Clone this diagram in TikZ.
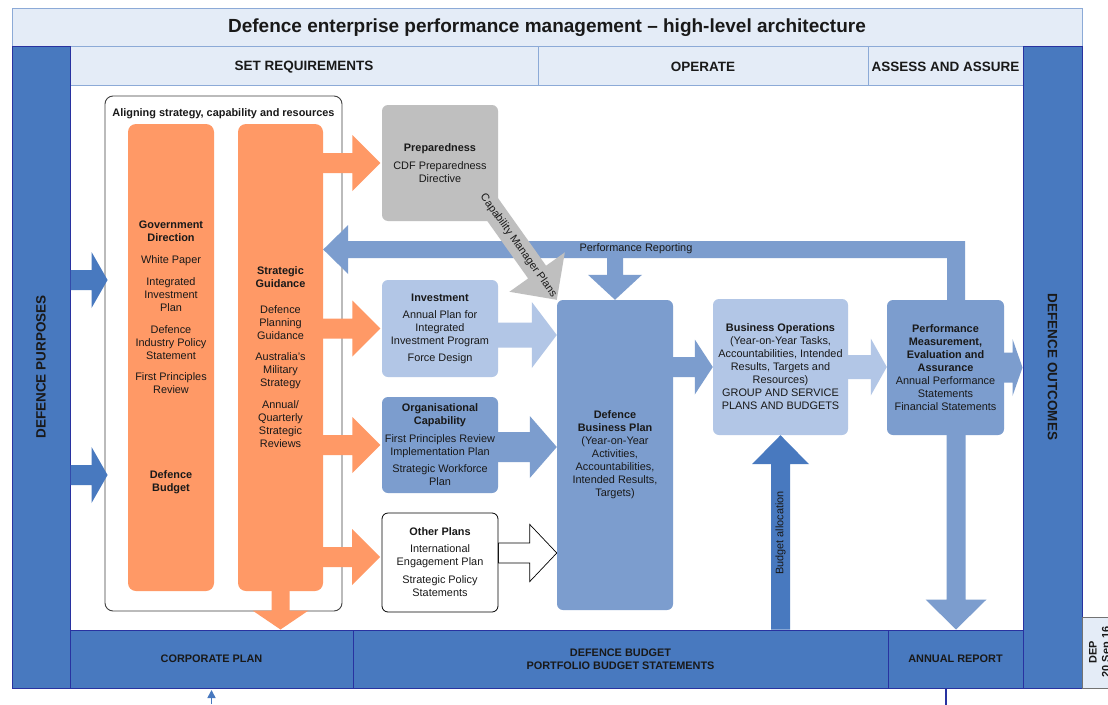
\documentclass[tikz,border=0pt]{standalone}
\usepackage{fontspec}
\setmainfont{Liberation Sans}
\usetikzlibrary{calc,arrows.meta}
\definecolor{dkblue}{RGB}{72,121,191}
\definecolor{edgeblue}{RGB}{40,50,160}
\definecolor{midblue}{RGB}{124,157,206}
\definecolor{ltblue}{RGB}{178,198,230}
\definecolor{hdrfill}{RGB}{228,236,247}
\definecolor{hdredge}{RGB}{140,170,215}
\definecolor{orng}{RGB}{255,153,102}
\definecolor{grayb}{RGB}{191,191,191}
\definecolor{txt}{RGB}{25,25,25}
\newcommand{\fsnorm}{\fontsize{10.9}{13}\selectfont}
\newcommand{\fshead}{\bfseries\fontsize{13.5}{16}\selectfont}
\pgfdeclarelayer{bg}
\pgfdeclarelayer{arr}
\pgfsetlayers{bg,arr,main}
% #1 style, #2 start, #3 tip, #4 shaft half width, #5 head half width, #6 head length
\newcommand{\blockarrow}[6][]{%
  \coordinate (bah) at ($(#3)!#6!(#2)$);
  \path[#1] ($(#2)!#4!90:(#3)$) -- ($(bah)!#4!90:(#3)$) -- ($(bah)!#5!90:(#3)$) -- (#3)
    -- ($(bah)!#5!-90:(#3)$) -- ($(bah)!#4!-90:(#3)$) -- ($(#2)!#4!-90:(#3)$) -- cycle;}
\begin{document}
\begin{tikzpicture}[x=1pt,y=-1pt,
  every node/.style={inner sep=0pt, align=center, text=txt, font=\fsnorm},
  hdr/.style={fill=hdrfill, draw=hdredge, line width=0.8pt},
  bluecol/.style={fill=dkblue, draw=edgeblue, line width=1pt},
  plainbox/.style={rounded corners=6pt, minimum width=116pt},
  orngcol/.style={fill=orng, rounded corners=8pt, minimum width=86pt, minimum height=467pt},
  darr/.style={fill=dkblue},
  marr/.style={fill=midblue},
  larr/.style={fill=ltblue},
  oarr/.style={fill=orng},
  garr/.style={fill=grayb},
  warr/.style={fill=white, draw=black, line width=0.7pt, line join=miter}]
\useasboundingbox (0,0) rectangle (1108,704);
\begin{pgfonlayer}{bg}
\fill[white] (0,0) rectangle (1108,704);
% title and headers
\node[hdr, minimum width=1070pt, minimum height=38pt] (title) at (547,27) {};
\node[hdr, minimum width=468pt, minimum height=39pt] (setreq) at (304,65.5) {};
\node[hdr, minimum width=330pt, minimum height=39pt] (operate) at (703,65.5) {};
\node[hdr, minimum width=155pt, minimum height=39pt] (assess) at (945.5,65.5) {};
% side columns
\node[bluecol, minimum width=58pt, minimum height=642pt] (purp) at (41,367) {};
\node[bluecol, minimum width=59pt, minimum height=642pt] (outc) at (1052.5,367) {};
% bottom row
\node[bluecol, minimum width=283pt, minimum height=58pt] (corp) at (211.5,659) {};
\node[bluecol, minimum width=535pt, minimum height=58pt] (budget) at (620.5,659) {};
\node[bluecol, minimum width=135pt, minimum height=58pt] (annual) at (955.5,659) {};
\node[fill=hdrfill, draw=black!55, line width=0.8pt, minimum width=36pt, minimum height=71pt] (dep) at (1100,652.5) {};
% aligning box and orange columns
\node[draw=black!75, line width=0.9pt, rounded corners=8pt, minimum width=237pt, minimum height=515pt] (align) at (223.5,353.5) {};
\node[orngcol] (gov) at (171,357.5) {};
\node[orngcol, minimum width=85pt] (sg) at (280.5,357.5) {};
\end{pgfonlayer}

% labels on frames
\node[font=\bfseries\fontsize{19}{22}\selectfont] (titlet) at (547,28) {Defence enterprise performance management – high-level architecture};
\node[font=\fshead] (setreqt) at (304,67) {SET REQUIREMENTS};
\node[font=\fshead] (operatet) at (703,67) {OPERATE};
\node[font=\fshead] (assesst) at (945.5,67) {ASSESS AND ASSURE};
\node[rotate=90, font=\fshead] (purpt) at (purp.center) {DEFENCE PURPOSES};
\node[rotate=-90, font=\fshead] (outct) at (outc.center) {DEFENCE OUTCOMES};
\node[font=\bfseries\fsnorm] (corpt) at (211.5,659) {CORPORATE PLAN};
\node[font=\bfseries\fsnorm] (budgett) at (620.5,659.5) {DEFENCE BUDGET\\PORTFOLIO BUDGET STATEMENTS};
\node[font=\bfseries\fsnorm] (annualt) at (955.5,659) {ANNUAL REPORT};
\node[rotate=90, font=\bfseries\fsnorm] (dept) at (1100.5,652) {DEP\\20 Sep 16};
\node[font=\bfseries\fsnorm] (alignt) at (223.5,114) {Aligning strategy, capability and resources};
\node (govt) at (171,307.5) {\textbf{Government}\\\textbf{Direction}\\[9pt]White Paper\\[9pt]Integrated\\Investment\\Plan\\[9pt]Defence\\Industry Policy\\Statement\\[8pt]First Principles\\Review};
\node[font=\bfseries\fsnorm] (budt) at (171,482.5) {Defence\\Budget};
\node (sgt) at (280.5,357) {\textbf{Strategic}\\\textbf{Guidance}\\[13pt]Defence\\Planning\\Guidance\\[8pt]Australia's\\Military\\Strategy\\[9pt]Annual/\\Quarterly\\Strategic\\Reviews};

% boxes
\node[plainbox, fill=grayb, minimum height=116pt] (prep) at (440,163) {\textbf{Preparedness}\\[5pt]CDF Preparedness\\Directive};
\node[plainbox, fill=ltblue, minimum height=97pt] (inv) at (440,328.5) {\textbf{Investment}\\[4pt]Annual Plan for\\Integrated\\Investment Program\\[4pt]Force Design};
\node[plainbox, fill=midblue, minimum height=96pt] (org) at (440,445) {\textbf{Organisational}\\\textbf{Capability}\\[5pt]First Principles Review\\Implementation Plan\\[4pt]Strategic Workforce\\Plan};
\node[plainbox, fill=white, draw=black, line width=0.8pt, minimum height=99pt] (other) at (440,562.5) {\textbf{Other Plans}\\[4pt]International\\Engagement Plan\\[5pt]Strategic Policy\\Statements};
\node[plainbox, fill=midblue, minimum height=310pt] (dbp) at (615,455) {\textbf{Defence}\\\textbf{Business Plan}\\(Year-on-Year\\Activities,\\Accountabilities,\\Intended Results,\\Targets)};
\node[plainbox, fill=ltblue, minimum width=135pt, minimum height=136pt] (busops) at (780.5,367) {\textbf{Business Operations}\\(Year-on-Year Tasks,\\Accountabilities, Intended\\Results, Targets and\\Resources)\\GROUP AND SERVICE\\PLANS AND BUDGETS};
\node[plainbox, fill=midblue, minimum width=117pt, minimum height=135pt] (pmea) at (945.5,367.5) {\textbf{Performance}\\\textbf{Measurement,}\\\textbf{Evaluation and}\\\textbf{Assurance}\\Annual Performance\\Statements\\Financial Statements};

% connectors (block arrows)
\begin{pgfonlayer}{arr}
% defence purposes inputs
\coordinate (lp1s) at (purp.east |- 0,280);
\coordinate (lp1e) at ($(align.west |- 0,280)+(3,0)$);
\coordinate (lp2s) at (purp.east |- 0,475);
\coordinate (lp2e) at ($(align.west |- 0,475)+(3,0)$);
\blockarrow[darr]{lp1s}{lp1e}{10pt}{28pt}{16pt}
\blockarrow[darr]{lp2s}{lp2e}{10pt}{28pt}{16pt}
% strategic guidance outputs
\coordinate (o1s) at (sg.east |- prep.west);
\coordinate (o1e) at ($(prep.west)+(-1.5,0)$);
\coordinate (o2s) at (sg.east |- inv.west);
\coordinate (o2e) at ($(inv.west)+(-1.5,0)$);
\coordinate (o3s) at (sg.east |- org.west);
\coordinate (o3e) at ($(org.west)+(-1.5,0)$);
\coordinate (o4e) at ($(other.west)+(-1.5,-5.5)$);
\coordinate (o4s) at (sg.east |- o4e);
\blockarrow[oarr]{o1s}{o1e}{10pt}{28pt}{28pt}
\blockarrow[oarr]{o2s}{o2e}{10pt}{28pt}{28pt}
\blockarrow[oarr]{o3s}{o3e}{10pt}{28pt}{28pt}
\blockarrow[oarr]{o4s}{o4e}{10pt}{28pt}{28pt}
\coordinate (o5e) at (sg.south |- corp.north);
\blockarrow[oarr]{sg.south}{o5e}{9pt}{28pt}{19pt}
% plans into business plan
\coordinate (i1s) at ($(inv.east)+(0,6.5)$);
\coordinate (i1e) at (dbp.west |- i1s);
\blockarrow[larr]{i1s}{i1e}{12.5pt}{33pt}{25pt}
\coordinate (i2s) at ($(org.east)+(0,2)$);
\coordinate (i2e) at (dbp.west |- i2s);
\blockarrow[marr]{i2s}{i2e}{15pt}{31pt}{27pt}
\coordinate (i3s) at ($(other.east)+(0,-9.5)$);
\coordinate (i3e) at (dbp.west |- i3s);
\blockarrow[warr]{i3s}{i3e}{10pt}{28.5pt}{27pt}
% performance reporting loop
\coordinate (prS) at ($(pmea.north)+(10.5,0)$);
\coordinate (prTip) at (sg.east |- 0,249.5);
\fill[midblue] ($(prS)+(9,0)$) -- ($(prS |- 0,241)+(9,0)$) -- ($(prTip)+(25,-8.5)$) -- ($(prTip)+(25,-24.5)$) -- (prTip)
  -- ($(prTip)+(25,24.5)$) -- ($(prTip)+(25,8.5)$) -- ($(prS |- 0,258)+(-9,0)$) -- ($(prS)+(-9,0)$) -- cycle;
\coordinate (prD) at ($(dbp.north)+(0,-42)$);
\blockarrow[marr]{prD}{dbp.north}{8pt}{27pt}{25pt}
% capability manager plans
\coordinate (cmpE) at (dbp.north west);
\coordinate (cmpS) at ($(cmpE)+(-72.5,-102)$);
\blockarrow[garr]{cmpS}{cmpE}{11pt}{34pt}{34pt}
% operate flow
\coordinate (f1s) at (dbp.east |- busops.west);
\blockarrow[marr]{f1s}{busops.west}{10pt}{27.5pt}{18pt}
\coordinate (f2e) at (pmea.west |- busops.east);
\blockarrow[larr]{busops.east}{f2e}{12pt}{28.5pt}{16pt}
\coordinate (f3e) at (outc.west |- pmea.east);
\blockarrow[marr]{pmea.east}{f3e}{15pt}{28.5pt}{10pt}
% budget allocation
\coordinate (baS) at (busops.south |- budget.north);
\blockarrow[darr]{baS}{busops.south}{9.5pt}{28.5pt}{29pt}
% to annual report
\coordinate (arS) at (prS |- pmea.south);
\coordinate (arE) at (prS |- annual.north);
\blockarrow[marr]{arS}{arE}{9.5pt}{30.5pt}{30pt}
% small links below frame
\draw[dkblue, line width=1.6pt, -{Triangle[width=8pt,length=8pt]}] (corp.south |- 0,704) -- ($(corp.south)+(0,1.5)$);
\draw[edgeblue, line width=1.6pt] ($(annual.south)+(-9.5,0)$) -- ++(0,16);
\end{pgfonlayer}

% connector labels
\node (prl) at (636,249) {Performance Reporting};
\node[rotate=-54.6] (cmpl) at ($(cmpS)!0.47!(cmpE)$) {Capability Manager Plans};
\node[rotate=90] (bal) at (780.5,533) {Budget allocation};
\end{tikzpicture}
\end{document}
